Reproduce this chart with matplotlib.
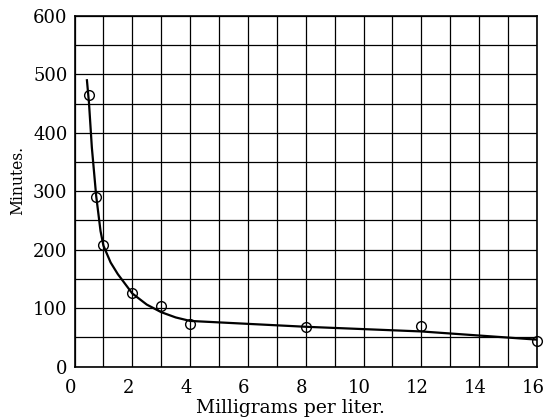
import matplotlib
matplotlib.use("Agg")
import matplotlib.pyplot as plt
import matplotlib.transforms as mtransforms
import numpy as np

# Observed data points (circles)
dose = [0.5, 0.75, 1, 2, 3, 4, 8, 12, 16]
minutes = [464, 291, 208, 125, 103, 72, 68, 69, 44]

# Hand-drawn fitted curve
curve_x = [0.43, 0.5, 0.6, 0.75, 0.9, 1.0, 1.25, 1.5, 2.0, 2.5, 3.0, 3.5, 4.0, 6, 8, 10, 12, 14, 16]
curve_y = [490, 452, 375, 292, 232, 207, 178, 158, 125, 106, 93, 84, 78, 73, 68, 64, 60, 53, 46]

xticks = [0, 2, 4, 6, 8, 10, 12, 14, 16]
yticks = [0, 100, 200, 300, 400, 500, 600]

plt.rcParams['font.family'] = ['DejaVu Serif']

fig = plt.figure(figsize=(5.45, 4.2), dpi=100)
ax = fig.add_axes([74.5 / 545, (420 - 366.5) / 420, (537 - 74.5) / 545, (366.5 - 16) / 420])

ax.set_xlim(0, 16)
ax.set_ylim(0, 600)
ax.set_xticks(np.arange(0, 17, 1), minor=True)
ax.set_yticks(np.arange(0, 601, 50), minor=True)
ax.set_xticks(xticks)
ax.set_yticks(yticks)
ax.set_xticklabels([str(t) for t in xticks], fontsize=13)
ax.set_yticklabels([str(t) for t in yticks], fontsize=13)
ax.tick_params(which='both', length=0)
ax.tick_params(axis='x', pad=9)
ax.tick_params(axis='y', pad=5)
offset = mtransforms.ScaledTranslation(-4 / 100, 0, fig.dpi_scale_trans)
for lbl in ax.get_xticklabels():
    lbl.set_transform(lbl.get_transform() + offset)
ax.grid(True, which='both', color='black', linewidth=0.9)
ax.set_axisbelow(True)
for s in ax.spines.values():
    s.set_linewidth(1.2)

ax.plot(curve_x, curve_y, color='black', linewidth=1.6, zorder=3)
ax.plot(dose, minutes, linestyle='none', marker='o', markersize=7,
        markerfacecolor='none', markeredgecolor='black', markeredgewidth=1.0,
        zorder=4, clip_on=False)

ax.set_xlabel('Milligrams per liter.', fontsize=13.5)
ax.xaxis.set_label_coords(290 / 545, (420 - 399) / 420, transform=fig.transFigure)
ax.set_ylabel('Minutes.', fontsize=12.5, fontstretch='condensed')
ax.yaxis.set_label_coords(26 / 545, (420 - 180) / 420, transform=fig.transFigure)

fig.savefig('out.png', dpi=100)
